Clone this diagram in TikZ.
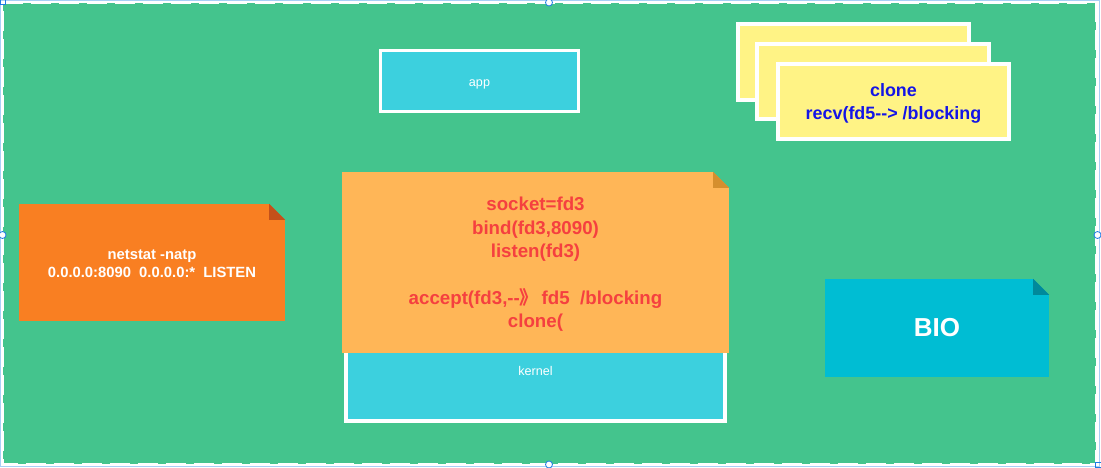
\documentclass[tikz,border=0pt]{standalone}
\usepackage{fontspec}
\setmainfont{Liberation Sans}
\newfontfamily\cjk{Noto Sans CJK SC}
\usetikzlibrary{calc}
\definecolor{bggreen}{HTML}{44C48D}
\definecolor{cyanbox}{HTML}{3CD0DE}
\definecolor{mainorange}{HTML}{FFB657}
\definecolor{mainfold}{HTML}{D58F2E}
\definecolor{redtext}{HTML}{F5403F}
\definecolor{netorange}{HTML}{F97F22}
\definecolor{netfold}{HTML}{C4501A}
\definecolor{biocyan}{HTML}{00BDD3}
\definecolor{biofold}{HTML}{00899B}
\definecolor{cardyellow}{HTML}{FFF385}
\definecolor{bluetext}{HTML}{1414E6}
\definecolor{handleblue}{HTML}{1E7BE6}
\definecolor{framelblue}{HTML}{A8CFF5}
\tikzset{
  whitebox/.style={draw=white, line width=3pt, fill=cyanbox, inner sep=0pt},
  smalllbl/.style={text=white, font=\fontsize{12.6}{14}\selectfont, inner sep=0pt},
  notebox/.style={inner sep=0pt, align=center, font=\bfseries},
  notetext/.style={inner sep=0pt, align=center},
  card/.style={draw=white, line width=4pt, fill=cardyellow, inner sep=0pt, minimum width=231pt, minimum height=75pt},
  handle/.style={circle, draw=handleblue, fill=white, line width=0.8pt, minimum size=7pt, inner sep=0pt},
}
\newcommand{\foldcorner}[3]{% node, fold colour, size
  \fill[bggreen] ($(#1.north east)+(-#3,0)$) -- (#1.north east) -- ($(#1.north east)+(0,-#3)$) -- cycle;
  \fill[#2] ($(#1.north east)+(-#3,0)$) -- ($(#1.north east)+(-#3,-#3)$) -- ($(#1.north east)+(0,-#3)$) -- cycle;
}
\begin{document}
\begin{tikzpicture}[x=1pt,y=1pt]
\useasboundingbox (0,0) rectangle (1101,467);
% frame and background
\draw[framelblue, line width=1pt] (0.5,0.5) rectangle (1099,466.5);
\fill[bggreen] (3,3) rectangle (1096,464);
\draw[white, line width=2pt, dash pattern=on 20pt off 8pt] (3,464) -- (1096,464) -- (1096,3) -- (3,3) -- cycle;
% app
\node[whitebox, minimum width=198pt, minimum height=61pt] (app) at (479.5,386) {};
\node[smalllbl] (applbl) at ($(app.center)+(0,-3)$) {app};
% kernel
\node[whitebox, line width=4pt, minimum width=379pt, minimum height=86pt] (kernel) at (535.5,89) {};
\node[smalllbl] (kernlbl) at ($(kernel.north)+(0,-38)$) {kernel};
% main orange note
\node[notebox, fill=mainorange, minimum width=387pt, minimum height=181pt] (mainnote) at (535.5,204.5) {};
\foldcorner{mainnote}{mainfold}{16}
\node[notetext, text=redtext, font=\bfseries\fontsize{18.7}{23.4}\selectfont] (maintext) at ($(mainnote.center)+(0,-2)$)
  {socket=fd3\\bind(fd3,8090)\\listen(fd3)\\[23.4pt]accept(fd3,-{}-{\cjk 》}\,fd5\ \ /blocking\\clone(};
% netstat note
\node[notebox, fill=netorange, minimum width=266pt, minimum height=117pt] (netnote) at (152,204.5) {};
\foldcorner{netnote}{netfold}{16}
\node[notetext, text=white, font=\bfseries\fontsize{14.8}{18}\selectfont] (nettext) at ($(netnote.center)+(0,-1)$)
  {netstat -natp\\0.0.0.0:8090\ \ 0.0.0.0:*\ \ LISTEN};
% BIO note
\node[notebox, fill=biocyan, minimum width=224pt, minimum height=98pt, text=white,
      font=\bfseries\fontsize{26}{30}\selectfont] (bionote) at (937,139) {BIO};
\foldcorner{bionote}{biofold}{16}
% stacked cards
\node[card, minimum height=76pt] (card1) at (853.5,405) {};
\node[card, minimum width=232pt] (card2) at (873,385.5) {};
\node[card] (card3) at (893.5,365.5) {};
\node[notetext, text=bluetext, font=\bfseries\fontsize{17.9}{23}\selectfont] (cardtext) at ($(card3.center)+(0,-2)$)
  {clone\\recv(fd5-{}-> /blocking};
% selection handles
\node[handle] (htop) at (549,464.5) {};
\node[handle] (hbot) at (549,2.5) {};
\node[handle] (hleft) at (2.5,232) {};
\node[handle] (hright) at (1097.5,232) {};
\draw[handleblue, line width=1pt] (0,467) rectangle (5.5,462);
\draw[handleblue, line width=1pt] (1095,5) rectangle (1101,0);
\end{tikzpicture}
\end{document}
